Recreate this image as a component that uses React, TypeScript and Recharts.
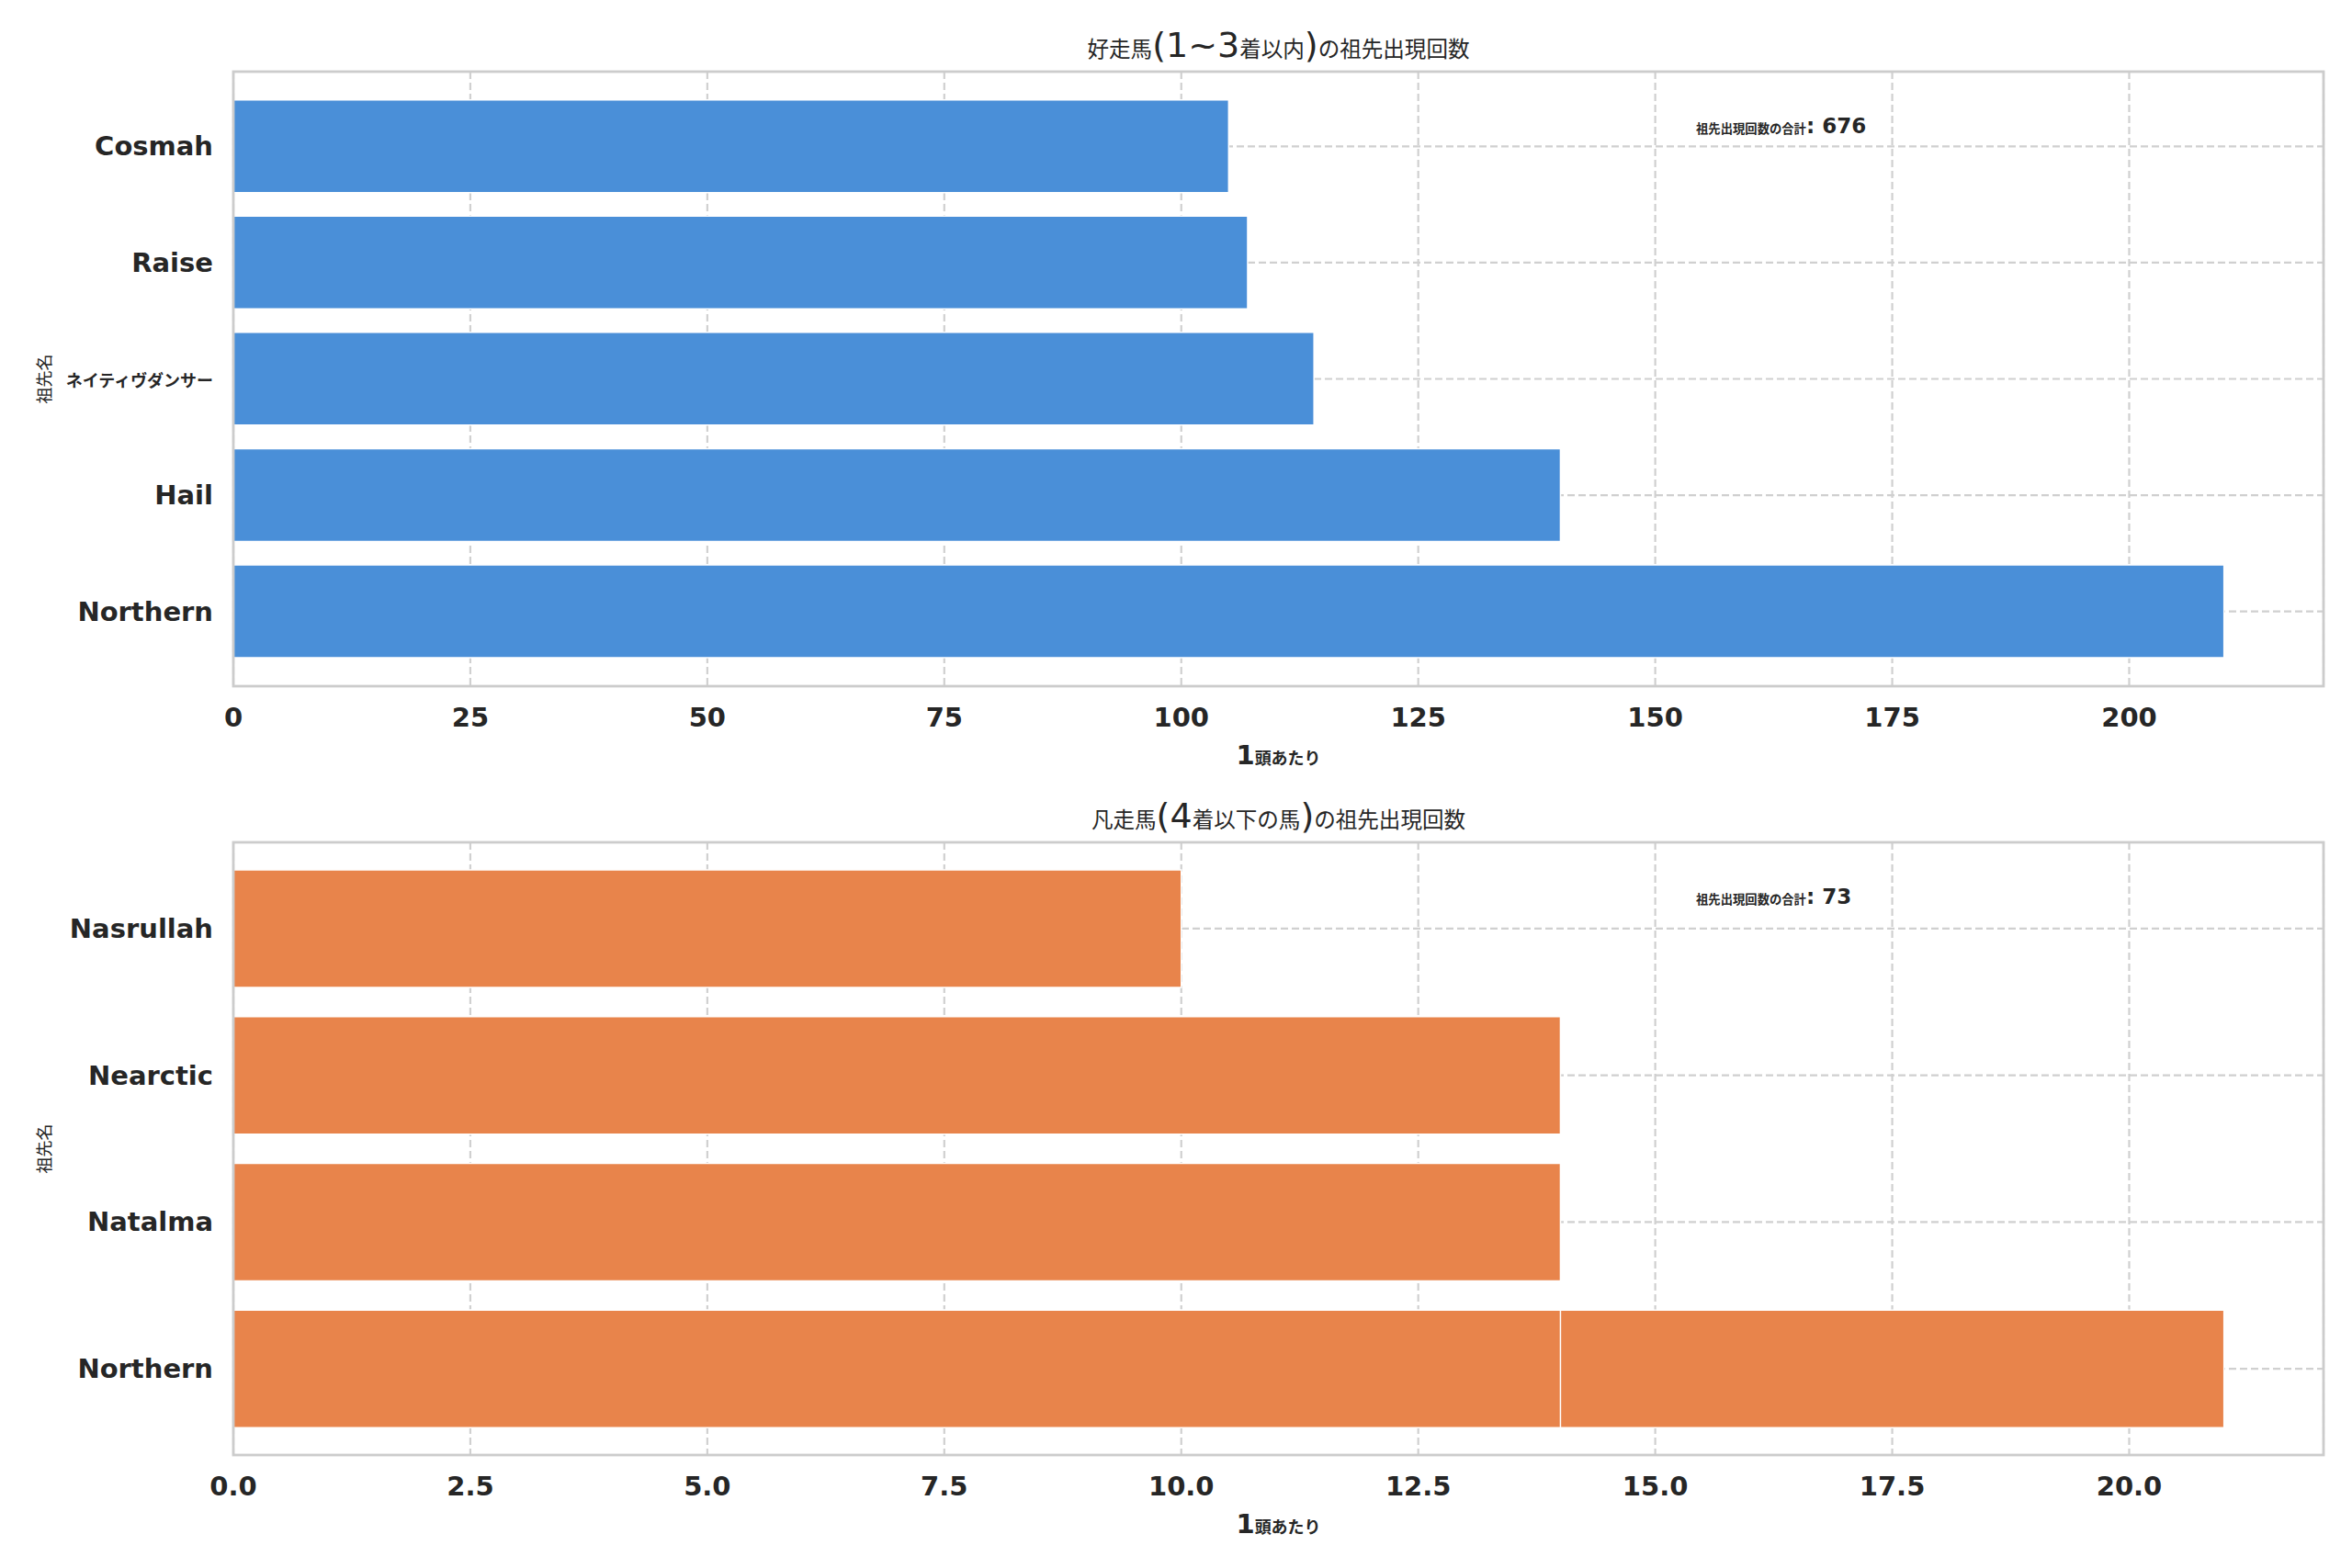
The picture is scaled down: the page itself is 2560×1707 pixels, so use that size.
import { BarChart, Bar, XAxis, YAxis, CartesianGrid } from 'recharts'

// upper panel: ancestors of horses that finished 1st-3rd
const topAncestors = ['Northern', 'Hail', 'ネイティヴダンサー', 'Raise', 'Cosmah']
const topCounts = [210, 140, 114, 107, 105]
const topTicks = [0, 25, 50, 75, 100, 125, 150, 175, 200]

// lower panel: the Northern row appears twice (21 drawn first, 14 drawn over it)
const bottomAncestors = ['Northern', 'Natalma', 'Nearctic', 'Nasrullah']
const bottomCounts = [21, 14, 14, 10]
const bottomOverlayCounts = [14, null, null, null]
const bottomTicks = [0, 2.5, 5, 7.5, 10, 12.5, 15, 17.5, 20]

const topTitle = '好走馬(1~3着以内)の祖先出現回数'
const bottomTitle = '凡走馬(4着以下の馬)の祖先出現回数'
const yLabel = '祖先名'
const xLabel = '1頭あたり'
const totalLabel = '祖先出現回数の合計'

const BLUE = '#4A8FD8'
const ORANGE = '#E8844B'
const INK = '#262626'
const GRID = '#d0d0d0'
const FONT = '"DejaVu Sans", "Noto Sans CJK JP", sans-serif'

const W = 2560
const H = 1707
const PLOT_L = 254
const PLOT_R = 2529

// CJK runs are shrunk so they take about the room the original glyph boxes took
function Mixed({ text, size, scale = 0.62, ...rest }: any) {
  const parts = text.split(/([\u3000-\u9fff\uff00-\uffef]+)/).filter((s: string) => s.length)
  return (
    <text fontFamily={FONT} fontSize={size} fill={INK} {...rest}>
      {parts.map((p: string, i: number) =>
        /[\u3000-\u9fff\uff00-\uffef]/.test(p)
          ? <tspan key={i} fontSize={size * scale} fontFamily='"Noto Sans CJK JP", sans-serif'>{p}</tspan>
          : <tspan key={i}>{p}</tspan>
      )}
    </text>
  )
}

const CategoryTick = ({ x, y, payload }: any) => (
  <Mixed text={String(payload.value)} size={29} x={x} y={y} textAnchor="end" dominantBaseline="central" fontWeight="bold" />
)

const makeValueTick = (fmt: (v: number) => string) => ({ x, y, payload }: any) => (
  <text x={x} y={y + 44} textAnchor="middle" fontFamily={FONT} fontSize={29} fontWeight="bold" fill={INK}>
    {fmt(payload.value)}
  </text>
)

interface PanelProps {
  rows: any[]
  color: string
  ticks: number[]
  domain: [number, number]
  plotTop: number
  plotBottom: number
  pad: number
  fmt: (v: number) => string
  overlay?: boolean
}

function Panel({ rows, color, ticks, domain, plotTop, plotBottom, pad, fmt, overlay }: PanelProps) {
  return (
    <BarChart
      width={W}
      height={H}
      data={rows}
      layout="vertical"
      margin={{ top: plotTop, bottom: H - plotBottom - 60, left: 0, right: W - PLOT_R }}
      barCategoryGap="10%"
    >
      <CartesianGrid stroke={GRID} strokeWidth={2.2} strokeDasharray="8 4" />
      <XAxis type="number" domain={domain} ticks={ticks} height={60} axisLine={false} tickLine={false}
        tickSize={0} tickMargin={0} tick={makeValueTick(fmt)} interval={0} allowDataOverflow />
      <YAxis type="category" dataKey="name" width={PLOT_L} reversed axisLine={false} tickLine={false}
        tickSize={0} tickMargin={22} tick={<CategoryTick />} interval={0} padding={{ top: pad, bottom: pad }} />
      {overlay && (
        <YAxis yAxisId="dup" type="category" dataKey="name" width={0} reversed hide padding={{ top: pad, bottom: pad }} />
      )}
      <Bar dataKey="count" fill={color} stroke="#fff" strokeWidth={1.5} isAnimationActive={false} />
      {overlay && (
        <Bar yAxisId="dup" dataKey="again" fill={color} stroke="#fff" strokeWidth={1.5} isAnimationActive={false} />
      )}
    </BarChart>
  )
}

const sum = (a: number[]) => a.reduce((s, v) => s + v, 0)

export default function App() {
  const topRows = topAncestors.map((name, i) => ({ name, count: topCounts[i] }))
  const bottomRows = bottomAncestors.map((name, i) => ({ name, count: bottomCounts[i], again: bottomOverlayCounts[i] }))
  const topTotal = sum(topCounts)
  const bottomTotal = sum(bottomCounts) + sum(bottomOverlayCounts.filter((v): v is number => v != null))

  const panels = [
    { top: 78, bottom: 747, title: topTitle, total: topTotal },
    { top: 917, bottom: 1584, title: bottomTitle, total: bottomTotal },
  ]
  const cx = (PLOT_L + PLOT_R) / 2

  return (
    <div style={{ position: 'relative', width: W, height: H, background: '#fff' }}>
      <style>{'body{margin:0;background:#fff}'}</style>
      <div style={{ position: 'absolute', left: 0, top: 0 }}>
        <Panel rows={topRows} color={BLUE} ticks={topTicks} domain={[0, 220.5]} plotTop={78} plotBottom={747}
          pad={18} fmt={(v) => String(v)} />
      </div>
      <div style={{ position: 'absolute', left: 0, top: 0 }}>
        <Panel rows={bottomRows} color={ORANGE} ticks={bottomTicks} domain={[0, 22.05]} plotTop={917} plotBottom={1584}
          pad={14} fmt={(v) => v.toFixed(1)} overlay />
      </div>
      <svg width={W} height={H} style={{ position: 'absolute', left: 0, top: 0, pointerEvents: 'none' }}>
        {panels.map((p, i) => (
          <g key={i}>
            <rect x={PLOT_L} y={p.top} width={PLOT_R - PLOT_L} height={p.bottom - p.top} fill="none" stroke="#cccccc" strokeWidth={2.8} />
            <Mixed text={p.title} size={38} x={cx} y={p.top - 16} textAnchor="middle" />
            <Mixed text={xLabel} size={29} x={cx} y={p.bottom + 85} textAnchor="middle" fontWeight="bold" />
            <Mixed text={`${totalLabel}: ${p.total}`} size={23} x={1846} y={p.top + 67} fontWeight="bold" scale={0.58} />
            <Mixed text={yLabel} size={29} x={47} y={(p.top + p.bottom) / 2} textAnchor="middle" dominantBaseline="central"
              transform={`rotate(-90 47 ${(p.top + p.bottom) / 2})`} />
          </g>
        ))}
      </svg>
    </div>
  )
}
